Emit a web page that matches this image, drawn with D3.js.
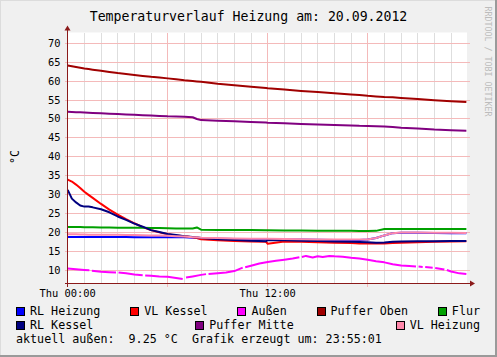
<!DOCTYPE html>
<html>
<head>
<meta charset="utf-8">
<script src="https://cdn.jsdelivr.net/npm/d3@7"></script>
<style>
  html, body { margin: 0; padding: 0; background: #f0f0f0; }
  svg { display: block; }
  text { font-family: "DejaVu Sans Mono", monospace; fill: #000; }
</style>
</head>
<body>
<svg id="chart" width="497" height="357"></svg>
<script>
// ---------------- DATA ----------------
const title = "Temperaturverlauf Heizung am: 20.09.2012";
const unitLabel = "°C";
const watermark = "RRDTOOL / TOBI OETIKER";
const footerText = "aktuell außen:  9.25 °C  Grafik erzeugt um: 23:55:01";

const yTicks = [10, 15, 20, 25, 30, 35, 40, 45, 50, 55, 60, 65, 70];
const xMajorHours = [0, 6, 12, 18];
const xTickHours = [0, 12];
const xTickLabels = ["Thu 00:00", "Thu 12:00"];

const hours = [0, 0.25, 0.5, 0.75, 1, 1.25, 1.5, 2, 2.5, 3, 3.5, 4, 4.5, 5, 5.5, 6, 6.5, 7, 7.5, 7.75, 8, 9, 10, 11, 11.9, 12, 13, 14, 15, 16, 17, 17.5, 18, 18.5, 19, 19.5, 20, 21, 22, 23, 23.92];

const rlHeizung   = [18.9, 18.9, 18.9, 18.9, 18.9, 18.9, 18.9, 18.9, 18.9, 18.9, 18.9, 18.85, 18.85, 18.85, 18.85, 18.8, 18.8, 18.8, 18.7, 18.6, 18.5, 18.4, 18.35, 18.3, 18.3, 18.3, 18.25, 18.2, 18.15, 18.1, 18.1, 18.1, 18.2, 18.6, 19.3, 19.9, 20.0, 20.0, 19.95, 19.9, 19.9];
const vlKessel    = [34.0, 33.5, 32.7, 31.8, 30.8, 30.0, 29.2, 27.6, 26.1, 24.8, 23.6, 22.5, 21.5, 20.7, 20.1, 19.6, 19.3, 19.1, 18.8, 18.6, 18.3, 18.0, 17.8, 17.7, 17.6, 17.1, 17.7, 17.6, 17.5, 17.4, 17.3, 17.2, 17.2, 17.15, 17.2, 17.3, 17.4, 17.5, 17.6, 17.7, 17.75];
const pufferOben  = [64.1, 63.9, 63.7, 63.5, 63.3, 63.15, 63.0, 62.7, 62.4, 62.1, 61.85, 61.6, 61.35, 61.1, 60.9, 60.7, 60.45, 60.2, 60.0, 59.9, 59.8, 59.3, 58.9, 58.5, 58.15, 58.1, 57.75, 57.4, 57.1, 56.8, 56.45, 56.3, 56.1, 55.95, 55.8, 55.7, 55.55, 55.25, 54.95, 54.7, 54.45];
const flur        = [21.5, 21.5, 21.5, 21.5, 21.45, 21.45, 21.45, 21.4, 21.4, 21.35, 21.35, 21.3, 21.3, 21.25, 21.25, 21.2, 21.15, 21.1, 21.15, 21.4, 20.8, 20.75, 20.7, 20.7, 20.65, 20.65, 20.6, 20.6, 20.55, 20.5, 20.5, 20.45, 20.45, 20.5, 21.0, 21.0, 21.0, 21.0, 21.0, 21.0, 21.0];
const rlKessel    = [31.3, 29.0, 28.0, 27.2, 26.9, 26.9, 26.7, 26.2, 25.4, 24.3, 23.4, 22.4, 21.6, 20.7, 20.2, 19.7, 19.4, 19.1, 18.9, 18.8, 18.6, 18.3, 18.1, 17.9, 17.75, 18.1, 18.0, 17.9, 17.8, 17.7, 17.6, 17.55, 17.5, 17.4, 17.45, 17.6, 17.7, 17.75, 17.75, 17.8, 17.8];
const pufferMitte = [51.9, 51.85, 51.8, 51.75, 51.7, 51.65, 51.6, 51.5, 51.4, 51.3, 51.2, 51.1, 51.0, 50.9, 50.8, 50.7, 50.65, 50.6, 50.45, 50.0, 49.7, 49.55, 49.4, 49.2, 49.05, 49.0, 48.85, 48.7, 48.55, 48.4, 48.3, 48.2, 48.15, 48.1, 48.0, 47.85, 47.7, 47.5, 47.2, 47.05, 46.9];
const vlHeizung   = [19.6, 19.6, 19.6, 19.55, 19.55, 19.5, 19.5, 19.5, 19.45, 19.45, 19.4, 19.4, 19.35, 19.3, 19.25, 19.2, 19.1, 19.0, 18.85, 18.8, 18.7, 18.6, 18.5, 18.45, 18.4, 18.4, 18.35, 18.3, 18.25, 18.2, 18.2, 18.2, 18.2, 18.6, 19.3, 19.9, 20.05, 20.05, 20.0, 20.0, 19.95];

// outdoor temperature has gaps (null = missing sample)
const aussenHours  = [0, 0.5, 1.0, 1.3, 1.35, 1.45, 2.0, 2.5, 2.9, 2.95, 3.05, 3.5, 4.0, 4.5, 4.55, 4.65, 5.0, 5.5, 6.0, 6.5, 6.9, 6.95, 7.1, 7.5, 8.0, 8.3, 8.35, 8.45, 9.0, 9.5, 10.0, 10.5, 10.55, 10.65, 11.0, 11.5, 12.0, 12.5, 13.0, 13.5, 13.9, 13.95, 14.05, 14.3, 14.7, 15.0, 15.3, 15.7, 16.0, 16.5, 17.0, 17.5, 18.0, 18.5, 19.0, 19.5, 20.0, 20.5, 20.9, 20.95, 21.05, 21.3, 21.35, 21.45, 21.9, 21.95, 22.05, 22.5, 22.6, 22.65, 22.75, 23.0, 23.5, 23.92];
const aussenValues = [10.6, 10.4, 10.2, 10.1, null, 10.0, 9.7, 9.6, 9.55, null, 9.5, 9.3, 9.0, 8.8, null, 8.75, 8.7, 8.5, 8.4, 8.1, 7.8, null, 8.2, 8.5, 8.9, 9.1, null, 9.15, 9.35, 9.5, 9.9, 10.8, null, 10.9, 11.3, 11.9, 12.3, 12.6, 12.9, 13.2, 13.55, null, 13.6, 13.9, 13.5, 13.8, 13.6, 13.9, 13.8, 13.7, 13.4, 13.2, 12.9, 12.5, 12.2, 11.7, 11.4, 11.25, 11.1, null, 11.1, 11.0, null, 10.95, 10.75, null, 10.7, 10.4, 10.3, null, 10.2, 9.8, 9.3, 9.1];

const seriesNames  = ["RL Heizung", "VL Kessel", "Außen", "Puffer Oben", "Flur", "RL Kessel", "Puffer Mitte", "VL Heizung"];
const seriesColors = ["#0000ff", "#ff0000", "#ff00ff", "#a00000", "#00a000", "#000080", "#800080", "#ff88aa"];
const legendRows   = [[0, 1, 2, 3, 4], [5, 6, 7]];

// ---------------- DRAW ----------------
const svg = d3.select("#chart");
const W = 497, H = 357;
const plotL = 67.5, plotR = 467, plotT = 32.5, plotB = 283.5;

const x = d3.scaleLinear().domain([0, 24]).range([67.7, 467.7]);
const y = d3.scaleLinear().domain([10, 70]).range([270.7, 43.1]);

// background + 3d frame
svg.append("rect").attr("x", 0).attr("y", 0).attr("width", W).attr("height", H).attr("fill", "#f0f0f0");
svg.append("rect").attr("x", 0).attr("y", 0).attr("width", W).attr("height", 1).attr("fill", "#dcdcdc");
svg.append("rect").attr("x", 0).attr("y", 0).attr("width", 1).attr("height", H).attr("fill", "#dcdcdc");
svg.append("rect").attr("x", W - 2).attr("y", 0).attr("width", 2).attr("height", H).attr("fill", "#9a9a9a");
svg.append("rect").attr("x", 0).attr("y", H - 2).attr("width", W).attr("height", 2).attr("fill", "#9a9a9a");

// canvas
svg.append("rect").attr("x", plotL).attr("y", plotT).attr("width", plotR - plotL).attr("height", plotB - plotT).attr("fill", "#ffffff");

const grid = svg.append("g").attr("shape-rendering", "crispEdges");
// minor vertical grid each hour
d3.range(1, 24).filter(h => !xMajorHours.includes(h)).forEach(h => {
  const px = Math.floor(x(h)) + 0.5;
  grid.append("line").attr("x1", px).attr("x2", px).attr("y1", plotT).attr("y2", plotB)
    .attr("stroke", "#dedede").attr("stroke-width", 1);
});
// major vertical
xMajorHours.filter(h => h > 0).forEach(h => {
  const px = Math.floor(x(h)) + 0.5;
  grid.append("line").attr("x1", px).attr("x2", px).attr("y1", plotT).attr("y2", plotB + 3)
    .attr("stroke", "#f4baba").attr("stroke-width", 1);
});
// major horizontal
yTicks.forEach(v => {
  const py = Math.floor(y(v)) + 0.5;
  grid.append("line").attr("x1", plotL - 3).attr("x2", plotR + 3).attr("y1", py).attr("y2", py)
    .attr("stroke", "#f4baba").attr("stroke-width", 1);
});

// series
const seriesData = [rlHeizung, vlKessel, null, pufferOben, flur, rlKessel, pufferMitte, vlHeizung];
const lineGen = d3.line()
  .defined(d => d[1] !== null)
  .x(d => x(d[0]))
  .y(d => y(d[1]));

const gSeries = svg.append("g");
seriesData.forEach((vals, i) => {
  const pts = (i === 2)
    ? aussenHours.map((h, k) => [h, aussenValues[k]])
    : hours.map((h, k) => [h, vals[k]]);
  gSeries.append("path")
    .attr("d", lineGen(pts))
    .attr("fill", "none")
    .attr("stroke", seriesColors[i])
    .attr("stroke-width", 2)
    .attr("stroke-linejoin", "round");
});

// axes
const axisColor = "#8b1a1a";
const ax = svg.append("g").attr("shape-rendering", "crispEdges");
ax.append("line").attr("x1", plotL).attr("x2", plotL).attr("y1", plotB + 3).attr("y2", 29)
  .attr("stroke", axisColor).attr("stroke-width", 1);
ax.append("line").attr("x1", plotL - 3).attr("x2", 471).attr("y1", plotB).attr("y2", plotB)
  .attr("stroke", axisColor).attr("stroke-width", 1);
svg.append("path").attr("d", `M${plotL - 3},30.5 L${plotL},25.5 L${plotL + 3},30.5 Z`).attr("fill", axisColor);
svg.append("path").attr("d", `M470,${plotB - 3} L475,${plotB} L470,${plotB + 3} Z`).attr("fill", axisColor);

// y tick labels
const yAxisG = svg.append("g");
yTicks.forEach(v => {
  yAxisG.append("text").attr("x", 60.5).attr("y", Math.floor(y(v)) + 4.3)
    .attr("text-anchor", "end").attr("font-size", "10.4px").text(v);
});
// x tick labels
xTickHours.forEach((h, i) => {
  svg.append("text").attr("x", x(h)).attr("y", 297)
    .attr("text-anchor", "middle").attr("font-size", "10.4px").text(xTickLabels[i]);
});

// title
svg.append("text").attr("x", 248.5).attr("y", 20.5).attr("text-anchor", "middle")
  .attr("font-size", "13.2px").text(title);

// unit
svg.append("text").attr("transform", "translate(18.5,157) rotate(-90)")
  .attr("text-anchor", "middle").attr("font-size", "11.7px").text(unitLabel);

// watermark
svg.append("text").attr("transform", "translate(484.5,6.5) rotate(90)")
  .attr("text-anchor", "start").attr("font-size", "8.3px").style("fill", "#bcbcbc").text(watermark);

// legend (justified rows like rrdtool)
const legFont = 11.7;
const legL = 16, legR = 480;
const legBaselines = [315, 329];
legendRows.forEach((row, r) => {
  const g = svg.append("g");
  const items = row.map(i => {
    const t = g.append("text").attr("font-size", legFont + "px").text(seriesNames[i]);
    return { i, t, w: 14 + t.node().getComputedTextLength() };
  });
  const total = d3.sum(items, d => d.w);
  const gap = (legR - legL - total) / (items.length - 1);
  let cx = legL;
  items.forEach(it => {
    const base = legBaselines[r];
    g.append("rect").attr("x", cx + 0.5).attr("y", base - 7.5).attr("width", 8).attr("height", 8)
      .attr("fill", seriesColors[it.i]).attr("stroke", "#000").attr("stroke-width", 1)
      .attr("shape-rendering", "crispEdges");
    it.t.attr("x", cx + 14).attr("y", base);
    cx += it.w + gap;
  });
});

svg.append("text").attr("x", 16).attr("y", 342.7).attr("font-size", legFont + "px")
  .attr("xml:space", "preserve").style("white-space", "pre").text(footerText);
</script>
</body>
</html>
